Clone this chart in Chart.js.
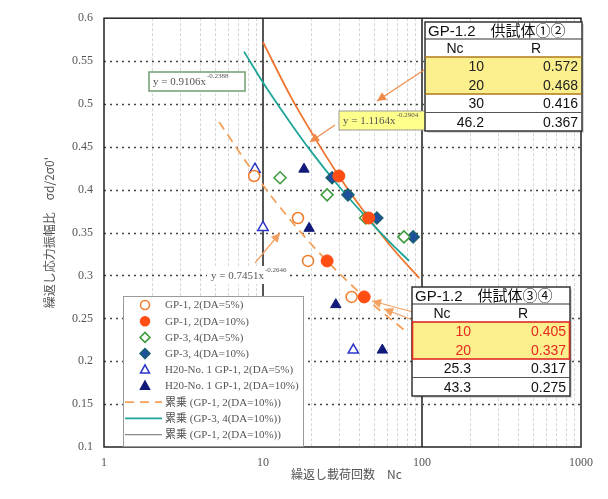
<!DOCTYPE html>
<html><head><meta charset="utf-8">
<script src="https://cdn.jsdelivr.net/npm/chart.js@4"></script>
<style>html,body{margin:0;padding:0;background:#fff}#wrap{width:608px;height:499px}</style>
</head><body><div id="wrap"><canvas id="c" width="608" height="499"></canvas></div>
<script>
// ---- axis ticks ----
const yTickValues = [0.1,0.15,0.2,0.25,0.3,0.35,0.4,0.45,0.5,0.55,0.6];
const yTickLabels = ['0.1','0.15','0.2','0.25','0.3','0.35','0.4','0.45','0.5','0.55','0.6'];
const xTickValues = [1,10,100,1000];
const xTickLabels = ['1','10','100','1000'];
const xMinorGrid = [2,3,4,5,6,7,8,9,20,30,40,50,60,70,80,90,200,300,400,500,600,700,800,900];
const xMajorGrid = [10,100];

// ---- series ----
const seriesNames = ['GP-1, 2(DA=5%)','GP-1, 2(DA=10%)','GP-3, 4(DA=5%)','GP-3, 4(DA=10%)',
  'H20-No. 1 GP-1, 2(DA=5%)','H20-No. 1 GP-1, 2(DA=10%)',
  '累乗 (GP-1, 2(DA=10%))','累乗 (GP-3, 4(DA=10%))','累乗 (GP-1, 2(DA=10%))'];
const gp12da5_nc = [8.8,16.6,19.2,36.1];  const gp12da5_r = [0.416,0.367,0.317,0.275];
const gp12da10_nc = [30,46.2,25.3,43.3];  const gp12da10_r = [0.416,0.367,0.317,0.275];
const gp34da5_nc = [12.8,25.3,44.2,77];   const gp34da5_r = [0.414,0.394,0.367,0.345];
const gp34da10_nc = [27.2,34.2,52,88];    const gp34da10_r = [0.414,0.394,0.367,0.345];
const h20da5_nc = [8.9,10,37];            const h20da5_r = [0.424,0.356,0.213];
const h20da10_nc = [18.1,19.5,28.7,56.3]; const h20da10_r = [0.424,0.355,0.266,0.213];
const fitDash_nc = [5.3,8,12,20,30,50,79];        const fitDash_r = [0.479,0.430,0.386,0.337,0.303,0.265,0.235];
const fitTeal_nc = [7.6,10,15,20,30,45,65,83];    const fitTeal_r = [0.561,0.525,0.477,0.445,0.404,0.367,0.336,0.317];
const fitOrange_nc = [10,15,20,30,45,65,96];      const fitOrange_r = [0.572,0.508,0.468,0.416,0.370,0.332,0.297];

// ---- tables ----
const table1Title = 'GP-1.2　供試体①②';
const table1Nc = ['10','20','30','46.2'];
const table1R = ['0.572','0.468','0.416','0.367'];
const table2Title = 'GP-1.2　供試体③④';
const table2Nc = ['10','20','25.3','43.3'];
const table2R = ['0.405','0.337','0.317','0.275'];
const eqTeal = ['y = 0.9106x','-0.2388'];
const eqOrange = ['y = 1.1164x','-0.2904'];
const eqDash = ['y = 0.7451x','-0.2646'];

const pts = (xs, ys) => xs.map((x,i)=>({x:x, y:ys[i]}));
const C = {
  orangeOpen:'#f07b2a', redFill:'#ff4d14', green:'#3c9a3c', blueFill:'#1f4f9f', blueBorder:'#1a6070',
  triOpen:'#2b36c8', triFill:'#111a7a', dash:'#f2a05a', orangeLine:'#f07530', teal:'#1ea59a', gray:'#888'
};
const serif = "'Liberation Serif','DejaVu Serif','Noto Sans CJK JP',serif";
const sans = "'Liberation Sans','Noto Sans CJK JP',sans-serif";

const datasets = [
  {label:seriesNames[0], data:pts(gp12da5_nc,gp12da5_r), pointStyle:'circle', pointRadius:5.5, backgroundColor:'#fff', borderColor:C.orangeOpen, borderWidth:1.5},
  {label:seriesNames[1], data:pts(gp12da10_nc,gp12da10_r), pointStyle:'circle', pointRadius:6, backgroundColor:C.redFill, borderColor:C.redFill, borderWidth:1},
  {label:seriesNames[2], data:pts(gp34da5_nc,gp34da5_r), pointStyle:'rectRot', pointRadius:6, backgroundColor:'#fff', borderColor:C.green, borderWidth:1.5},
  {label:seriesNames[3], data:pts(gp34da10_nc,gp34da10_r), pointStyle:'rectRot', pointRadius:6, backgroundColor:C.blueFill, borderColor:C.blueBorder, borderWidth:1.5},
  {label:seriesNames[4], data:pts(h20da5_nc,h20da5_r), pointStyle:'triangle', pointRadius:6, backgroundColor:'#fff', borderColor:C.triOpen, borderWidth:1.5},
  {label:seriesNames[5], data:pts(h20da10_nc,h20da10_r), pointStyle:'triangle', pointRadius:6, backgroundColor:C.triFill, borderColor:C.triFill, borderWidth:1},
  {label:seriesNames[6], data:pts(fitDash_nc,fitDash_r), showLine:true, pointRadius:0, borderColor:C.dash, borderWidth:1.8, borderDash:[9,6], cubicInterpolationMode:'monotone', fill:false},
  {label:seriesNames[7], data:pts(fitTeal_nc,fitTeal_r), showLine:true, pointRadius:0, borderColor:C.teal, borderWidth:1.8, cubicInterpolationMode:'monotone', fill:false},
  {label:seriesNames[8], data:pts(fitOrange_nc,fitOrange_r), showLine:true, pointRadius:0, borderColor:C.orangeLine, borderWidth:1.8, cubicInterpolationMode:'monotone', fill:false}
];
// draw markers above lines
datasets.forEach((d,i)=>{ d.order = i<6 ? 0 : 1; });

function seg(ctx,x1,y1,x2,y2){ctx.beginPath();ctx.moveTo(x1,y1);ctx.lineTo(x2,y2);ctx.stroke();}
function arrow(ctx,x1,y1,x2,y2,col){
  ctx.save(); ctx.strokeStyle=col; ctx.fillStyle=col; ctx.lineWidth=1.2; ctx.setLineDash([]);
  seg(ctx,x1,y1,x2,y2);
  const a=Math.atan2(y2-y1,x2-x1), L=9, W=4.5;
  ctx.beginPath(); ctx.moveTo(x2,y2);
  ctx.lineTo(x2-L*Math.cos(a)+W*Math.sin(a), y2-L*Math.sin(a)-W*Math.cos(a));
  ctx.lineTo(x2-L*Math.cos(a)-W*Math.sin(a), y2-L*Math.sin(a)+W*Math.cos(a));
  ctx.closePath(); ctx.fill(); ctx.restore();
}
function marker(ctx,style,x,y,r,fill,stroke){
  ctx.save(); ctx.beginPath(); ctx.setLineDash([]);
  if(style==='circle'){ctx.arc(x,y,r,0,Math.PI*2);}
  else if(style==='rectRot'){ctx.moveTo(x,y-r);ctx.lineTo(x+r,y);ctx.lineTo(x,y+r);ctx.lineTo(x-r,y);ctx.closePath();}
  else {ctx.moveTo(x,y-r);ctx.lineTo(x+r*0.9,y+r*0.65);ctx.lineTo(x-r*0.9,y+r*0.65);ctx.closePath();}
  ctx.fillStyle=fill; ctx.fill(); ctx.strokeStyle=stroke; ctx.lineWidth=1.5; ctx.stroke(); ctx.restore();
}
function eq(ctx,parts,x,y,col){
  ctx.save(); ctx.fillStyle=col; ctx.textBaseline='middle'; ctx.textAlign='left';
  ctx.font='11px '+serif; ctx.fillText(parts[0],x,y);
  const w=ctx.measureText(parts[0]).width;
  ctx.font='7px '+serif; ctx.fillText(parts[1],x+w+1,y-6); ctx.restore();
}
function table(ctx,x0,y0,w,title,nc,r,hiFill,hiBorder,hiText){
  const hH=17,cH=18,rH=18.5;
  const h=hH+cH+rH*4;
  ctx.save(); ctx.setLineDash([]);
  ctx.fillStyle='rgba(0,0,0,0.15)'; ctx.fillRect(x0+2,y0+2,w,h);
  ctx.fillStyle='#fff'; ctx.fillRect(x0,y0,w,h);
  const yHi=y0+hH+cH;
  ctx.fillStyle=hiFill; ctx.fillRect(x0,yHi,w,rH*2);
  ctx.strokeStyle='#333'; ctx.lineWidth=1.5; ctx.strokeRect(x0,y0,w,h);
  ctx.lineWidth=1.2; seg(ctx,x0,y0+hH,x0+w,y0+hH);
  ctx.lineWidth=1; ctx.strokeStyle='#555'; seg(ctx,x0,y0+hH+cH+rH*3,x0+w,y0+hH+cH+rH*3);
  ctx.strokeStyle=hiBorder; ctx.lineWidth=1.6;
  if(hiBorder==='#e02a1e'){ ctx.strokeRect(x0+0.5,yHi,w-1,rH*2); }
  else { seg(ctx,x0,yHi,x0+w,yHi); seg(ctx,x0,yHi+rH*2,x0+w,yHi+rH*2); }
  ctx.fillStyle='#111'; ctx.textBaseline='middle';
  ctx.font='15px '+sans; ctx.textAlign='left'; ctx.fillText(title,x0+3,y0+hH/2+1);
  ctx.font='14px '+sans; ctx.textAlign='center';
  ctx.fillText('Nc',x0+30,y0+hH+cH/2+1); ctx.fillText('R',x0+111,y0+hH+cH/2+1);
  for(let i=0;i<4;i++){
    const yy=yHi+rH*i+rH/2+1;
    ctx.fillStyle = i<2 ? hiText : '#111';
    ctx.textAlign='right'; ctx.fillText(nc[i],x0+59,yy); ctx.fillText(r[i],x0+w-4,yy);
  }
  ctx.restore();
}

const deco = {
  id:'deco',
  beforeDatasetsDraw(chart){
    const {ctx, chartArea:a, scales:{x,y}} = chart;
    ctx.save();
    ctx.strokeStyle='#d6d6d6'; ctx.lineWidth=1; ctx.setLineDash([3,2]);
    xMinorGrid.forEach(v=>{const p=Math.round(x.getPixelForValue(v))+0.5; seg(ctx,p,a.top,p,a.bottom);});
    ctx.strokeStyle='#444'; ctx.lineWidth=1.6; ctx.setLineDash([2,4]);
    yTickValues.forEach(v=>{ if(v>0.11 && v<0.59){const p=Math.round(y.getPixelForValue(v))+0.5; seg(ctx,a.left,p,a.right,p);} });
    ctx.setLineDash([]); ctx.strokeStyle='#555'; ctx.lineWidth=2;
    xMajorGrid.forEach(v=>{const p=x.getPixelForValue(v); seg(ctx,p,a.top,p,a.bottom);});
    ctx.restore();
  },
  afterDatasetsDraw(chart){
    const {ctx, chartArea:a} = chart;
    ctx.save();
    // frame
    ctx.strokeStyle='#222'; ctx.lineWidth=1.5; ctx.strokeRect(a.left,a.top,a.right-a.left,a.bottom-a.top);
    // equation 1 (teal)
    ctx.fillStyle='#fff'; ctx.fillRect(149,72,96,19);
    ctx.strokeStyle='#6f9e6f'; ctx.lineWidth=1.5; ctx.strokeRect(149,72,96,19);
    eq(ctx,eqTeal,153,82.5,'#555');
    // equation 2 (orange, yellow box)
    ctx.fillStyle='#ffff8c'; ctx.fillRect(339,111,96,19);
    ctx.strokeStyle='#999'; ctx.lineWidth=1; ctx.strokeRect(339,111,96,19);
    eq(ctx,eqOrange,343,121.5,'#555');
    // equation 3 (dashed)
    ctx.fillStyle='#fff'; ctx.fillRect(207,266,82,18);
    eq(ctx,eqDash,211,276.5,'#555');
    // arrows
    arrow(ctx,424,70,377,101,'#f08a4a');
    arrow(ctx,335,125,310,142,'#f08a4a');
    arrow(ctx,255,263,280,233,'#f4a060');
    arrow(ctx,413,312,372,301,'#f4a060');
    arrow(ctx,413,320,384,309,'#f4a060');
    // legend
    ctx.fillStyle='#fff'; ctx.fillRect(123,296,181,151);
    ctx.strokeStyle='#9a9a9a'; ctx.lineWidth=1; ctx.strokeRect(123.5,296.5,180,150);
    const ly0=305, dy=16.2;
    ctx.font='11px '+serif; ctx.textBaseline='middle'; ctx.textAlign='left';
    const mk = [['circle','#fff',C.orangeOpen],['circle',C.redFill,C.redFill],['rectRot','#fff',C.green],['rectRot',C.blueFill,C.blueBorder],['triangle','#fff',C.triOpen],['triangle',C.triFill,C.triFill]];
    for(let i=0;i<9;i++){
      const yy=ly0+dy*i;
      if(i<6){ marker(ctx,mk[i][0],145,yy,i<2?4.5:5,mk[i][1],mk[i][2]); }
      else {
        ctx.save(); ctx.lineWidth=1.8;
        ctx.strokeStyle = i===6?C.dash:(i===7?C.teal:C.gray);
        if(i===6) ctx.setLineDash([9,6]); else ctx.setLineDash([]);
        if(i===8) ctx.lineWidth=1.2;
        seg(ctx,125,yy,162,yy); ctx.restore();
      }
      ctx.fillStyle='#555'; ctx.fillText(seriesNames[i],165,yy+0.5);
    }
    // tables
    table(ctx,425,22,157,table1Title,table1Nc,table1R,'#fbef8e','#b07818','#222');
    table(ctx,412,287,158,table2Title,table2Nc,table2R,'#fbef8e','#e02a1e','#e8281e');
    // axis titles
    ctx.fillStyle='#555'; ctx.font="12px 'Noto Sans CJK JP',"+serif; ctx.textAlign='center'; ctx.textBaseline='middle';
    ctx.fillText('繰返し載荷回数　Nc',(a.left+a.right)/2+4,474);
    ctx.save(); ctx.translate(49,(a.top+a.bottom)/2); ctx.rotate(-Math.PI/2);
    ctx.fillText("繰返し応力振幅比　σd/2σ0'",0,0); ctx.restore();
    ctx.restore();
  }
};

new Chart(document.getElementById('c').getContext('2d'),{
  type:'scatter',
  data:{datasets:datasets},
  options:{
    responsive:false, animation:false, devicePixelRatio:1,
    layout:{padding:{top:15,right:27,left:0,bottom:0}},
    plugins:{legend:{display:false},tooltip:{enabled:false}},
    scales:{
      x:{type:'logarithmic',min:1,max:1000,
        afterFit(s){s.height=52;},
        afterBuildTicks(s){s.ticks=xTickValues.map(v=>({value:v}));},
        ticks:{autoSkip:false,maxRotation:0,padding:9,color:'#555',font:{family:serif,size:12},
          callback:(v)=>{const i=xTickValues.indexOf(v);return i>=0?xTickLabels[i]:'';}},
        grid:{display:false,drawTicks:false},border:{display:false}},
      y:{type:'linear',min:0.1,max:0.6,
        afterFit(s){s.width=104;},
        afterBuildTicks(s){s.ticks=yTickValues.map(v=>({value:v}));},
        ticks:{autoSkip:false,padding:11,color:'#555',font:{family:serif,size:12},
          callback:(v)=>{const i=yTickValues.indexOf(v);return i>=0?yTickLabels[i]:'';}},
        grid:{display:false,drawTicks:false},border:{display:false}}
    }
  },
  plugins:[deco]
});
</script></body></html>
